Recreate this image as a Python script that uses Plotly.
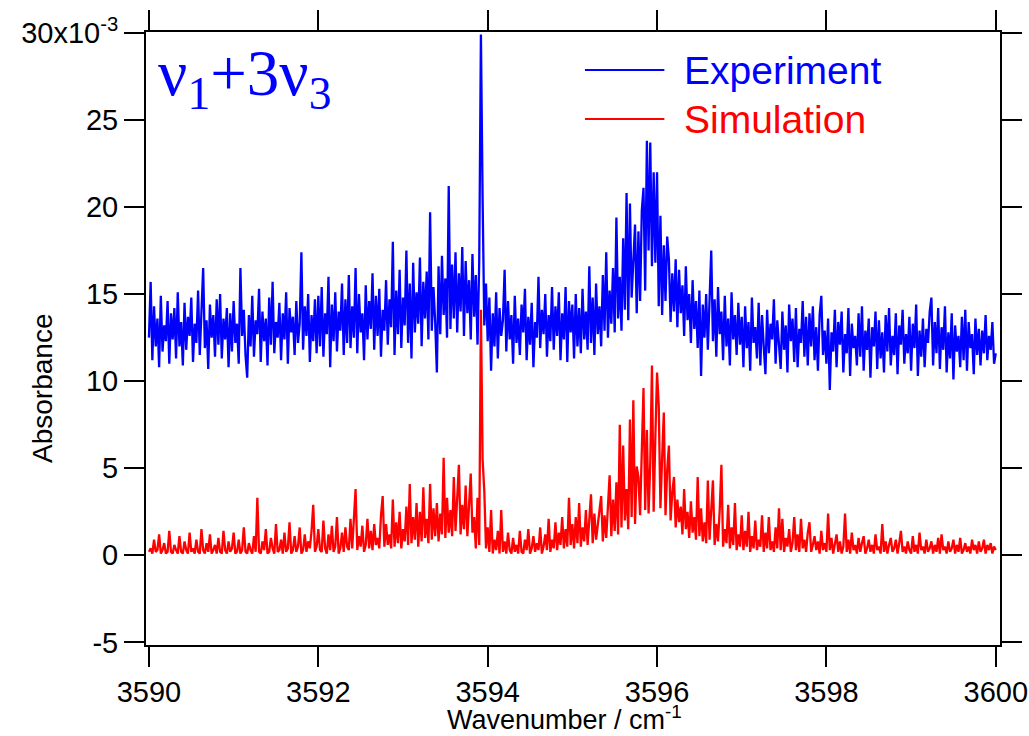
import numpy as np
import plotly.graph_objects as go

# Experiment (absorbance x1e-3), 3590 -> 3600 cm^-1
experiment = [
    12.5, 15.7, 11.2, 14.3, 12.0, 13.6, 10.8, 14.9, 11.7, 13.2, 12.3, 14.6, 11.0, 13.9, 12.4, 14.2, 11.3, 15.1, 12.0, 13.4,
    10.9, 14.5, 11.8, 13.7, 12.6, 14.8, 11.1, 13.3, 12.2, 15.2, 11.5, 14.0, 16.5, 11.9, 13.5, 10.7, 14.4, 12.5, 13.8, 11.4,
    14.7, 12.1, 15.0, 11.3, 13.6, 12.4, 14.2, 10.8, 13.9, 11.7, 14.6, 12.2, 13.3, 11.0, 16.5, 12.6, 14.1, 11.5, 10.2, 13.8,
    12.0, 14.9, 11.4, 13.5, 12.7, 15.3, 11.1, 14.0, 12.3, 13.6, 10.9, 14.8, 12.1, 15.7, 11.6, 13.4, 12.5, 14.5, 11.2, 13.9,
    12.4, 15.1, 11.0, 14.2, 12.8, 13.7, 11.5, 14.6, 12.2, 13.3, 17.4, 11.8, 14.3, 12.6, 15.0, 11.1, 13.8, 12.3, 14.7, 11.6,
    14.9, 12.0, 15.4, 11.4, 13.9, 12.7, 16.0, 10.8, 14.4, 12.3, 15.1, 11.7, 14.0, 12.9, 15.6, 11.5, 14.7, 12.2, 16.1, 11.9,
    14.3, 12.5, 16.5, 11.6, 15.0, 12.8, 13.9, 11.2, 15.5, 12.4, 14.6, 13.0, 16.2, 11.8, 14.9, 12.6, 15.3, 11.4, 14.1, 12.9,
    15.8, 12.1, 14.7, 13.1, 18.0, 11.5, 15.2, 12.7, 16.4, 11.9, 14.8, 13.2, 17.5, 12.2, 15.6, 11.3, 16.8, 12.8, 15.1, 13.3,
    17.1, 12.0, 15.7, 13.6, 16.3, 12.4, 19.7, 12.9, 15.4, 13.4, 10.5, 16.6, 12.7, 17.2, 13.8, 15.9, 12.5, 21.2, 13.0, 16.7,
    13.6, 17.4, 12.8, 16.2, 14.0, 17.7, 12.6, 16.9, 13.9, 15.8, 12.4, 17.3, 13.7, 16.1, 12.1, 16.8,
    29.9,
    20.5, 13.2, 15.6,
    12.3, 14.8, 10.6, 13.9, 12.0, 15.1, 11.3, 14.2, 12.6, 13.5, 16.4, 11.7, 14.6, 12.4, 13.8, 11.0, 14.9, 12.2, 13.6, 11.5,
    14.4, 12.8, 15.3, 11.2, 13.7, 12.1, 14.5, 10.8, 13.4, 12.5, 16.0, 11.9, 14.1, 12.7, 15.0, 11.4, 13.8, 12.3, 15.4, 11.8,
    14.3, 12.6, 15.1, 11.2, 13.9, 12.4, 15.4, 11.1, 14.6, 12.8,
    14.4, 11.3, 15.0, 12.0, 14.2, 11.6, 15.3, 12.4, 14.0, 11.8, 16.6, 12.2, 14.8, 11.5, 15.6, 12.7, 14.3, 12.0, 16.1, 12.9,
    17.4, 12.5, 15.2, 13.3, 16.5, 12.8, 19.4, 13.6, 16.0, 12.9, 18.2, 14.1, 20.8, 13.5, 20.2, 14.8, 17.0, 19.0, 13.9, 18.6,
    14.6, 19.8, 21.1, 15.2, 23.8, 17.5, 23.7, 16.6, 22.0, 16.8, 22.0, 14.3, 19.5, 13.8, 17.8, 14.6, 18.3, 17.0, 13.4, 16.2,
    14.0, 17.0, 13.1, 16.4, 13.9, 15.5, 12.6, 16.6, 13.5, 15.0, 12.2, 15.8, 13.0, 14.6, 11.9, 15.2, 10.3, 14.4, 12.5, 15.0,
    11.8, 14.2, 17.5, 12.3, 14.7, 11.4, 15.4, 12.7, 14.0, 11.2, 14.9, 12.0, 13.6, 10.9, 15.1, 12.4, 13.8, 11.5, 14.5, 12.1,
    13.7, 10.8, 14.3, 11.9, 13.4, 10.6, 14.8, 12.2, 13.1, 11.3, 14.5, 10.9, 13.8, 12.0, 10.4, 14.1, 11.6, 13.3, 12.4, 14.7,
    11.0, 13.5, 12.1, 10.7, 14.0, 11.8, 13.2, 10.5, 14.4, 12.3, 13.6, 11.1, 14.2, 10.8, 13.0, 12.2, 14.6, 11.4, 13.7, 10.9,
    13.9, 12.0, 14.3, 11.2, 13.1, 10.6, 13.8, 14.9, 11.5, 12.9, 11.0, 13.6, 9.5, 12.8, 11.7, 14.1, 10.8, 13.4, 12.1, 14.0,
    10.5, 12.7, 11.6, 14.2, 10.3, 13.3, 11.9, 12.6, 10.9, 13.9, 11.4, 14.3, 10.6, 12.9, 11.8, 13.6, 10.2, 13.1, 12.0, 14.0,
    10.7, 13.5, 11.3, 12.8, 10.5, 13.8, 11.7, 14.2, 10.9, 12.6, 11.5, 13.9, 10.4, 13.2, 12.1, 14.1, 11.0, 12.7, 11.6, 13.7,
    10.6, 13.3, 11.9, 14.4, 10.3, 12.9, 11.4, 13.6, 10.8, 13.0, 12.2, 14.0, 14.8, 10.9, 13.4, 11.6, 14.2, 10.7, 13.1, 11.8,
    14.3, 10.5, 12.8, 11.3, 13.9, 10.1, 13.2, 11.7, 12.6, 10.8, 13.7, 11.2, 14.1, 10.6, 13.4, 11.9, 12.7, 10.4, 13.6, 11.5,
    13.0, 10.9, 12.9, 11.6, 13.8, 11.2, 12.6, 11.8, 13.4, 11.0, 11.6,
]

# Simulation (absorbance x1e-3), 3590 -> 3600 cm^-1
simulation = [
    0.2, 0.4, 0.1, 0.9, 0.2, 0.3, 1.2, 0.1, 0.3, 0.7, 0.1, 0.2, 1.4, 0.2, 0.1, 0.6, 0.3, 0.1, 1.1, 0.2,
    0.1, 0.8, 0.3, 0.1, 1.3, 0.2, 0.4, 0.1, 0.9, 0.2, 0.1, 1.5, 0.3, 0.1, 0.7, 0.2, 1.2, 0.1, 0.3, 0.6,
    0.1, 1.0, 0.2, 0.1, 1.4, 0.3, 0.1, 0.8, 0.2, 0.4, 1.3, 0.1, 0.2, 0.9, 0.1, 0.3, 1.6, 0.2, 0.1, 0.7,
    0.3, 0.1, 1.1, 0.2, 3.3, 0.2, 0.1, 0.8, 0.3, 1.5, 0.1, 0.2, 1.0, 0.4, 0.1, 1.8, 0.2, 0.3, 0.9, 0.1,
    1.3, 0.2, 0.4, 1.9, 0.1, 0.3, 1.1, 0.2, 0.5, 1.6, 0.1, 0.3, 1.2, 0.2, 0.8, 0.4, 1.4, 2.9, 0.2, 0.5,
    1.5, 0.3, 0.2, 2.0, 0.4, 0.1, 1.2, 0.3, 1.7, 0.2, 0.5, 2.2, 0.1, 0.4, 1.3, 0.2, 1.6, 0.5, 0.3, 2.1,
    0.4, 2.4, 3.8, 0.3, 1.1, 0.5, 1.7, 0.2, 0.6, 2.1, 0.4, 1.4, 0.3, 1.8, 0.6, 1.0, 0.4, 2.3, 3.4, 0.5,
    1.8, 0.6, 1.2, 0.4, 3.2, 0.5, 1.9, 0.7, 2.5, 0.4, 1.5, 0.8, 2.8, 0.6, 4.1, 0.7, 2.2, 0.9, 3.0, 0.5,
    2.5, 0.8, 3.9, 1.0, 2.1, 0.7, 4.1, 0.9, 2.7, 1.1, 3.0, 0.8, 2.4, 1.2, 5.6, 1.0, 3.3, 1.3, 2.6, 1.1,
    4.5, 1.4, 3.1, 5.2, 1.2, 2.9, 1.5, 4.0, 1.1, 3.4, 4.7, 1.3, 2.2, 0.4, 3.3, 0.6,
    14.1,
    5.5, 3.7, 0.4,
    1.6, 0.2, 2.6, 0.1, 0.9, 0.3, 1.4, 0.1, 2.6, 0.2, 0.8, 0.1, 1.3, 0.3, 0.1, 1.0, 0.2, 0.6, 0.1, 1.4,
    0.2, 0.1, 0.9, 0.3, 1.5, 0.1, 0.4, 1.1, 0.2, 0.7, 0.3, 1.6, 0.1, 0.5, 1.2, 0.3, 2.1, 0.2, 0.9, 0.4,
    1.9, 0.3, 1.3, 0.6, 2.2, 0.4, 1.5, 0.5, 3.3, 0.6,
    1.8, 0.4, 2.2, 0.7, 3.0, 0.5, 1.6, 0.8, 2.6, 0.6, 1.9, 3.5, 0.7, 2.4, 0.9, 1.7, 2.8, 3.4, 0.8, 2.3,
    1.0, 2.9, 4.6, 1.1, 3.2, 1.4, 4.2, 1.2, 7.5, 1.6, 6.3, 2.0, 3.8, 1.5, 7.8, 2.2, 8.9, 1.8, 5.1, 4.5,
    2.3, 6.0, 9.6, 2.6, 7.2, 2.4, 5.3, 10.9, 2.5, 6.8, 10.5, 8.6, 2.7, 5.6, 8.2, 2.3, 4.9, 6.3, 2.0, 3.6,
    4.5, 1.6, 3.2, 1.9, 2.8, 1.2, 3.8, 1.5, 2.5, 1.0, 3.1, 1.3, 2.2, 0.9, 4.5, 1.1, 2.7, 0.8, 1.9, 0.7,
    4.3, 0.9, 2.4, 4.3, 0.6, 1.8, 0.8, 2.6, 5.2, 0.5, 1.5, 0.7, 2.9, 0.4, 1.6, 0.6, 3.0, 0.3, 1.2, 0.5,
    2.3, 0.3, 1.4, 0.5, 2.5, 0.2, 1.1, 0.4, 2.0, 0.3, 0.9, 0.5, 2.3, 0.2, 1.3, 0.4, 2.2, 0.3, 0.8, 0.2,
    1.6, 0.4, 2.7, 0.3, 2.1, 0.2, 1.0, 0.5, 1.5, 0.2, 0.7, 2.2, 0.3, 1.2, 0.2, 2.1, 0.4, 0.9, 0.2, 1.3,
    1.9, 0.2, 0.6, 1.1, 0.3, 0.8, 0.1, 1.4, 0.3, 0.7, 0.2, 2.4, 0.3, 1.0, 0.1, 0.6, 1.2, 0.2, 0.8, 0.1,
    0.5, 2.4, 0.2, 0.9, 0.1, 1.3, 0.3, 0.6, 0.1, 1.0, 0.2, 0.7, 1.1, 0.1, 0.4, 0.9, 0.2, 0.6, 0.1, 1.2,
    0.3, 0.5, 0.1, 1.8, 0.2, 0.8, 0.1, 0.6, 1.0, 0.2, 0.4, 0.9, 0.1, 0.7, 1.4, 0.2, 0.5, 0.1, 0.8, 0.3,
    0.1, 1.1, 0.2, 0.6, 0.1, 1.3, 0.3, 0.5, 0.1, 0.9, 0.2, 0.4, 0.8, 0.1, 0.6, 0.2, 1.0, 0.1, 1.2, 0.3,
    0.5, 0.1, 0.8, 0.2, 0.4, 0.9, 0.1, 0.6, 0.2, 1.0, 0.1, 0.3, 0.7, 0.2, 0.5, 0.1, 0.9, 0.3, 0.6, 0.1,
    0.8, 0.2, 0.4, 0.9, 0.1, 0.6, 0.3, 0.7, 0.1, 0.5, 0.3,
]

wn_start = 3590.0
wn_stop = 3600.0

x_tickvals = [3590, 3592, 3594, 3596, 3598, 3600]
y_tickvals = [-5, 0, 5, 10, 15, 20, 25, 30]
y_ticktext = ["-5", "0", "5", "10", "15", "20", "25", "30x10<sup>-3</sup>"]

series_names = ["Experiment", "Simulation"]
series_colors = ["#0000FF", "#FF0000"]

FONT = "Liberation Sans, Arial, Helvetica, sans-serif"

fig = go.Figure()
for name, vals, col in zip(series_names, [experiment, simulation], series_colors):
    xs = np.linspace(wn_start, wn_stop, len(vals))
    fig.add_trace(go.Scatter(x=xs, y=vals, mode="lines", name=name,
                             line=dict(color=col, width=2.3), showlegend=False))

axis_common = dict(showline=True, linecolor="black", linewidth=2, mirror="ticks",
                   ticks="outside", ticklen=20, tickwidth=2, tickcolor="black",
                   showgrid=False, zeroline=False, automargin=False,
                   tickfont=dict(family=FONT, size=29, color="black"))

fig.update_xaxes(range=[3589.965, 3600.05], tickvals=x_tickvals, **axis_common)
fig.update_yaxes(range=[-5.15, 30.05], tickvals=y_tickvals, ticktext=y_ticktext,
                 **axis_common)

# axis titles
fig.add_annotation(xref="paper", yref="paper", x=-0.122, y=0.419, text="Absorbance",
                   textangle=-90, showarrow=False, xanchor="center", yanchor="middle",
                   font=dict(family=FONT, size=28, color="black"))
fig.add_annotation(xref="paper", yref="paper", x=0.49, y=-0.1465,
                   text="Wavenumber / cm<sup>-1</sup>",
                   showarrow=False, xanchor="center", yanchor="bottom",
                   borderpad=0, borderwidth=0,
                   font=dict(family=FONT, size=27, color="black"))

# legend drawn as line samples + labels
legend_rows = [(0.938, series_names[0], series_colors[0]),
               (0.858, series_names[1], series_colors[1])]
for yy, name, col in legend_rows:
    fig.add_shape(type="line", xref="paper", yref="paper", x0=0.514, x1=0.607,
                  y0=yy, y1=yy, line=dict(color=col, width=2))
    fig.add_annotation(xref="paper", yref="paper", x=0.628, y=yy, text=name,
                       showarrow=False, xanchor="left", yanchor="middle",
                       font=dict(family=FONT, size=39, color=col))

fig.add_annotation(xref="paper", yref="paper", x=0.012, y=0.995,
                   text="ν<sub>1</sub>+3ν<sub>3</sub>", showarrow=False,
                   xanchor="left", yanchor="top",
                   font=dict(family="Liberation Serif, Times New Roman, serif", size=65, color="#0000FF"))

fig.update_layout(width=1029, height=736, margin=dict(l=146, r=29, t=32, b=91),
                  plot_bgcolor="white", paper_bgcolor="white", template="none")

fig.write_html("out.html")
